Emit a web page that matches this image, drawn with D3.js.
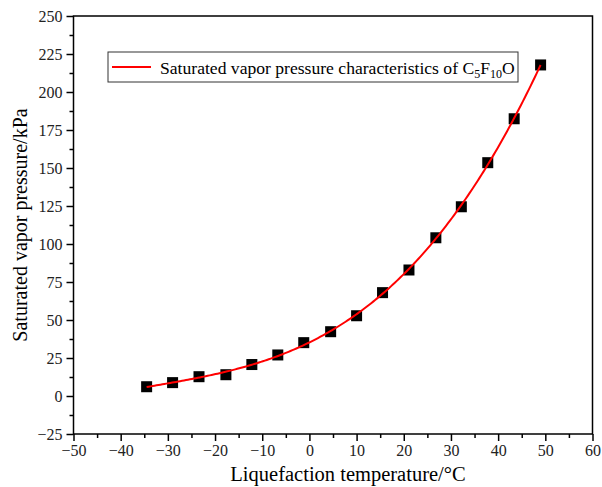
<!DOCTYPE html>
<html>
<head>
<meta charset="utf-8">
<script src="https://cdn.jsdelivr.net/npm/d3@7/dist/d3.min.js"></script>
<style>
  html, body { margin: 0; padding: 0; background: #fff; }
  svg { display: block; }
</style>
</head>
<body>
<svg id="chart" width="602" height="487"></svg>
<script>
// Measured saturated vapor pressure of C5F10O
const temperatures = [-34.5, -29.0, -23.4, -17.7, -12.2, -6.7, -1.2, 4.5, 10.0, 15.5, 21.1, 26.8, 32.2, 37.8, 43.4, 49.0];
const pressures    = [6.1, 8.8, 12.7, 14.0, 20.7, 27.0, 35.1, 42.3, 52.8, 68.0, 82.9, 104.1, 124.5, 153.5, 182.4, 217.8];

const xTicks = [-50, -40, -30, -20, -10, 0, 10, 20, 30, 40, 50, 60];
const yTicks = [-25, 0, 25, 50, 75, 100, 125, 150, 175, 200, 225, 250];

const xTitle = "Liquefaction temperature/\u00B0C";
const yTitle = "Saturated vapor pressure/kPa";

const svg = d3.select("#chart");
const plotL = 73.5, plotR = 592.5, plotT = 16, plotB = 434;

const x = d3.scaleLinear().domain([-50, 60]).range([plotL, plotR]);
const y = d3.scaleLinear().domain([-25, 250]).range([plotB, plotT]);

const serif = "'Liberation Serif', 'DejaVu Serif', serif";

// frame
svg.append("rect")
  .attr("x", plotL).attr("y", plotT)
  .attr("width", plotR - plotL).attr("height", plotB - plotT)
  .attr("fill", "none").attr("stroke", "#000").attr("stroke-width", 1.5);

// minor ticks
const xMinor = d3.range(-45, 60, 10);
const yMinor = d3.range(-12.5, 250, 25);
svg.append("g").attr("transform", `translate(0,${plotB})`)
  .call(d3.axisBottom(x).tickValues(xMinor).tickSize(4).tickFormat(""))
  .call(g => g.select(".domain").remove())
  .selectAll("line").attr("stroke-width", 1.5);
svg.append("g").attr("transform", `translate(${plotL},0)`)
  .call(d3.axisLeft(y).tickValues(yMinor).tickSize(4).tickFormat(""))
  .call(g => g.select(".domain").remove())
  .selectAll("line").attr("stroke-width", 1.5);

// major ticks
const fmt = d => (d < 0 ? "\u2212" + Math.abs(d) : String(d));
const gx = svg.append("g").attr("transform", `translate(0,${plotB})`)
  .call(d3.axisBottom(x).tickValues(xTicks).tickSize(7).tickPadding(4).tickFormat(fmt));
gx.select(".domain").remove();
gx.selectAll("line").attr("stroke-width", 1.5);
gx.selectAll("text").attr("font-family", serif).attr("font-size", 16).attr("fill", "#222");

const gy = svg.append("g").attr("transform", `translate(${plotL},0)`)
  .call(d3.axisLeft(y).tickValues(yTicks).tickSize(7).tickPadding(4).tickFormat(fmt));
gy.select(".domain").remove();
gy.selectAll("line").attr("stroke-width", 1.5);
gy.selectAll("text").attr("font-family", serif).attr("font-size", 16).attr("fill", "#222");

// axis titles
svg.append("text")
  .attr("x", 348).attr("y", 481)
  .attr("text-anchor", "middle")
  .attr("font-family", serif).attr("font-size", 20.5)
  .text(xTitle);
svg.append("text")
  .attr("transform", `translate(27,225) rotate(-90)`)
  .attr("text-anchor", "middle")
  .attr("font-family", serif).attr("font-size", 20)
  .text(yTitle);

// least-squares cubic fit of the measured points
function polyfit(xs, ys, deg) {
  const n = deg + 1;
  const A = Array.from({length: n}, () => new Array(n + 1).fill(0));
  xs.forEach((xv, i) => {
    for (let r = 0; r < n; r++) {
      for (let c = 0; c < n; c++) A[r][c] += Math.pow(xv, r + c);
      A[r][n] += ys[i] * Math.pow(xv, r);
    }
  });
  for (let i = 0; i < n; i++) {
    let p = i;
    for (let k = i + 1; k < n; k++) if (Math.abs(A[k][i]) > Math.abs(A[p][i])) p = k;
    [A[i], A[p]] = [A[p], A[i]];
    for (let k = i + 1; k < n; k++) {
      const f = A[k][i] / A[i][i];
      for (let j = i; j <= n; j++) A[k][j] -= f * A[i][j];
    }
  }
  const coef = new Array(n).fill(0);
  for (let i = n - 1; i >= 0; i--) {
    let s = A[i][n];
    for (let j = i + 1; j < n; j++) s -= A[i][j] * coef[j];
    coef[i] = s / A[i][i];
  }
  return t => coef.reduce((acc, c, k) => acc + c * Math.pow(t, k), 0);
}
const fit = polyfit(temperatures, pressures, 3);
const tMin = d3.min(temperatures), tMax = d3.max(temperatures);
const fitted = d3.range(0, 201).map(i => {
  const t = tMin + (tMax - tMin) * i / 200;
  return [t, fit(t)];
});

// markers
svg.append("g").selectAll("rect")
  .data(temperatures.map((t, i) => [t, pressures[i]]))
  .join("rect")
  .attr("x", d => x(d[0]) - 5.5).attr("y", d => y(d[1]) - 5.5)
  .attr("width", 11).attr("height", 11)
  .attr("fill", "#000");

// fitted curve
svg.append("path")
  .datum(fitted)
  .attr("fill", "none").attr("stroke", "#ff0000").attr("stroke-width", 2)
  .attr("d", d3.line().x(d => x(d[0])).y(d => y(d[1])));

// legend
const lg = svg.append("g");
lg.append("rect")
  .attr("x", 108).attr("y", 52).attr("width", 410).attr("height", 30)
  .attr("fill", "#fff").attr("stroke", "#333").attr("stroke-width", 1);
lg.append("line")
  .attr("x1", 112).attr("x2", 151).attr("y1", 67).attr("y2", 67)
  .attr("stroke", "#ff0000").attr("stroke-width", 2);
const lt = lg.append("text")
  .attr("x", 160).attr("y", 74)
  .attr("font-family", serif).attr("font-size", 17.6);
lt.append("tspan").text("Saturated vapor pressure characteristics of C");
lt.append("tspan").attr("font-size", 12).attr("dy", 4).text("5");
lt.append("tspan").attr("dy", -4).text("F");
lt.append("tspan").attr("font-size", 12).attr("dy", 4).text("10");
lt.append("tspan").attr("dy", -4).text("O");
</script>
</body>
</html>
